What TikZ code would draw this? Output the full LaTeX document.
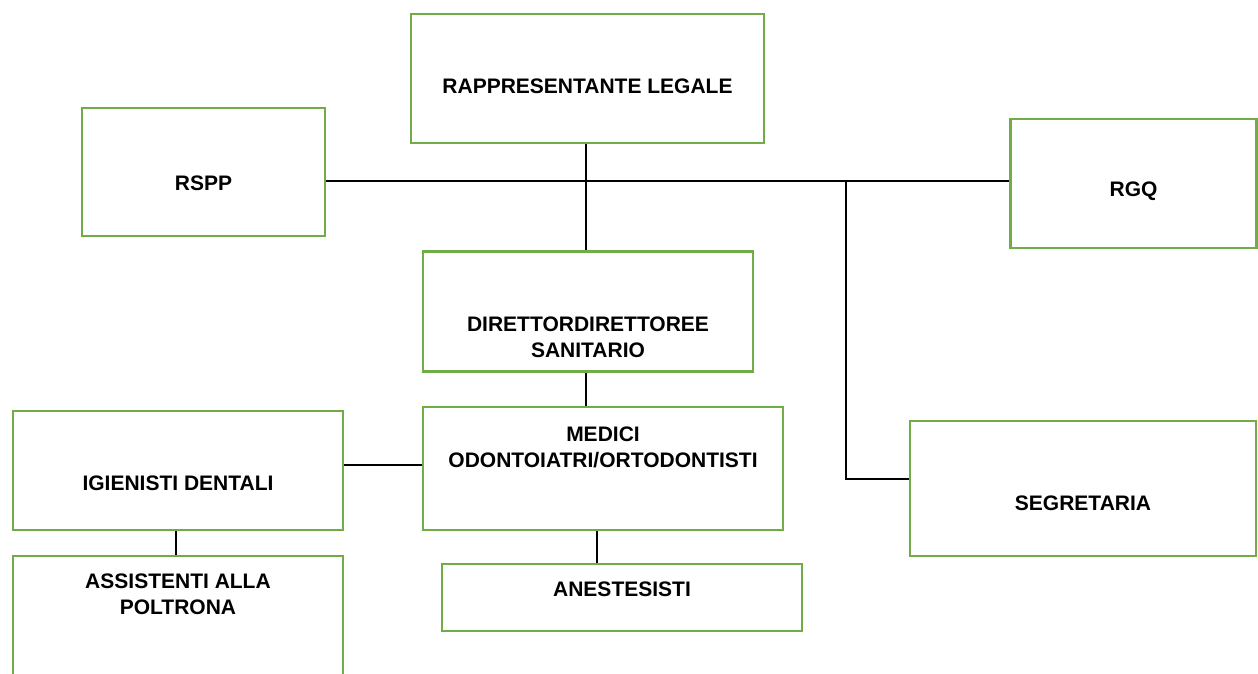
\documentclass[tikz,border=0pt]{standalone}
\usepackage{fontspec}
\setmainfont{Liberation Sans}
\definecolor{boxgreen}{HTML}{70AD47}
\begin{document}
\begin{tikzpicture}
  [x=1pt,y=-1pt,
   box/.style={draw=boxgreen,line width=2.2pt,rectangle,inner sep=0pt},
   txt/.style={inner sep=0pt,align=center,font=\fontsize{21}{26}\selectfont\bfseries},
   conn/.style={draw=black,line width=1.8pt}]
  \useasboundingbox (0,0) rectangle (1258,673);

  % boxes
  \node[box,minimum width=353,minimum height=129] (rl)  at (587.5,78.5)  {};
  \node[box,minimum width=243,minimum height=128] (rspp) at (203.5,172)   {};
  \node[box,minimum width=246,minimum height=129] (rgq) at (1133.5,183.5) {};
  \node[box,minimum width=330,minimum height=120] (ds)  at (588,311.5)   {};
  \node[box,minimum width=360,minimum height=123] (mo)  at (603,468.5)   {};
  \node[box,minimum width=330,minimum height=119] (ig)  at (178,470.5)   {};
  \node[box,minimum width=330,minimum height=140] (as)  at (178,626)     {};
  \node[box,minimum width=360,minimum height=67]  (an)  at (622,597.5)   {};
  \node[box,minimum width=346,minimum height=135] (seg) at (1083,488.5)  {};

  % texts
  \node[txt] (trl)  at (587.5,86)  {RAPPRESENTANTE LEGALE};
  \node[txt] (trspp) at (203.5,183) {RSPP};
  \node[txt] (trgq) at (1133.5,191) {RGQ};
  \node[txt] (tds)  at (588,337)   {DIRETTORDIRETTOREE\\SANITARIO};
  \node[txt] (tmo)  at (603,447)   {MEDICI\\ODONTOIATRI/ORTODONTISTI};
  \node[txt] (tig)  at (178,483)   {IGIENISTI DENTALI};
  \node[txt] (tas)  at (178,594)   {ASSISTENTI ALLA\\POLTRONA};
  \node[txt] (tan)  at (622,589)   {ANESTESISTI};
  \node[txt] (tseg) at (1083,503)  {SEGRETARIA};

  \coordinate (j1) at (rspp.east |- 0,181);
  \coordinate (j2) at (846,181);
  \coordinate (j3) at (846,479);
  \coordinate (j4) at (ig.east |- 0,465);

  % connectors
  \draw[conn] (rl.south -| 586,0) -- (ds.north -| 586,0);
  \draw[conn] (j1) -- (j1 -| rgq.west);
  \draw[conn] (j2) -- (j3) -- (j3 -| seg.west);
  \draw[conn] (ds.south -| 586,0) -- (mo.north -| 586,0);
  \draw[conn] (j4) -- (j4 -| mo.west);
  \draw[conn] (ig.south -| 176,0) -- (as.north -| 176,0);
  \draw[conn] (mo.south -| 597,0) -- (an.north -| 597,0);

\end{tikzpicture}
\end{document}
